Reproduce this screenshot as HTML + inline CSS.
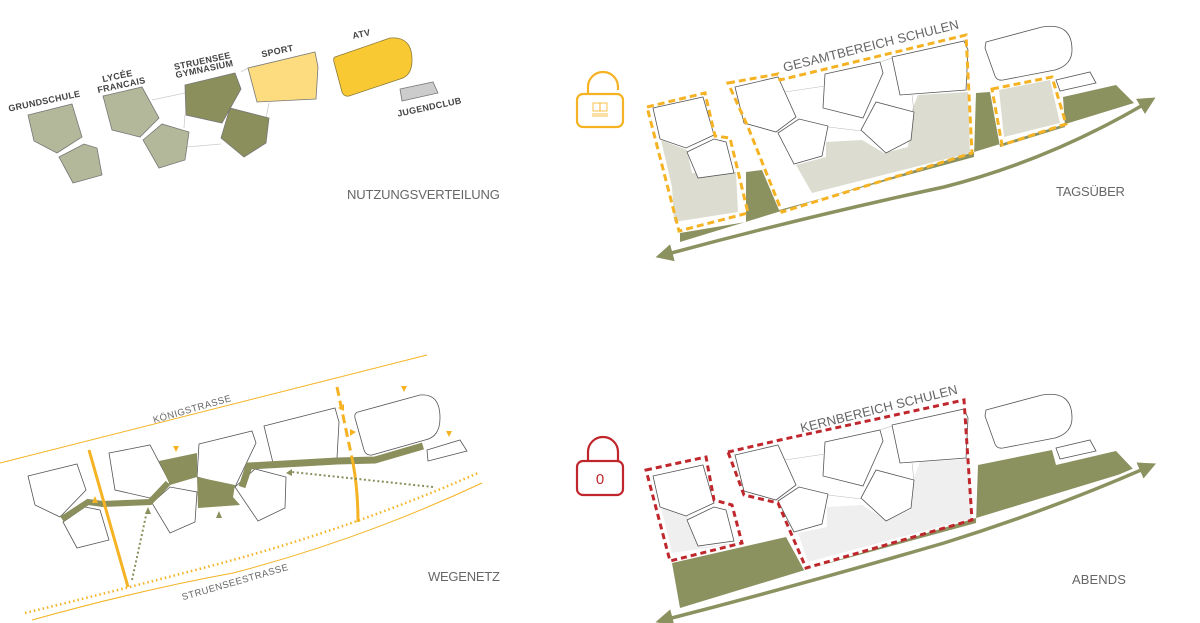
<!DOCTYPE html>
<html><head><meta charset="utf-8"><style>
html,body{margin:0;padding:0;background:#fff;}
svg{display:block;font-family:"Liberation Sans",sans-serif;}
.b{fill:#fff;stroke:#555;stroke-width:0.8;}
.lbl{font-size:9px;font-weight:bold;fill:#444;letter-spacing:0.3px;}
.ttl{font-size:13px;fill:#666;letter-spacing:0.1px;}
.st{font-size:9.5px;fill:#666;letter-spacing:0.5px;}
</style></head><body>
<svg width="1200" height="623" viewBox="0 0 1200 623" xmlns="http://www.w3.org/2000/svg">
<defs>
<marker id="ah" markerWidth="5" markerHeight="5" refX="2.5" refY="2.5" orient="auto-start-reverse" markerUnits="strokeWidth"><path d="M0,0 L5,2.5 L0,5 Z" fill="#8c9160"/></marker>
<g id="bld">
<polygon class="b" points="653,108 703,97 714,135 686,148 660,139"/>
<polygon class="b" points="687,152 714,139 726,142 734,173 698,178"/>
<polygon class="b" points="735,87 778,77 796,117 776,132 744,123"/>
<polygon class="b" points="778,133 799,119 828,126 822,156 794,164"/>
<polygon class="b" points="825,74 880,62 883,73 863,118 823,108"/>
<polygon class="b" points="861,130 876,102 914,112 911,140 886,153"/>
<polygon class="b" points="892,57 964,41 968,50 966,90 900,95"/>
<path class="b" d="M986,42 L1042,27 Q1072,22 1072,50 Q1072,65 1055,70 L1003,80 Q997,81 995,76 L985,48 Z"/>
<polygon class="b" points="1056,80 1090,72 1096,83 1060,91"/>
<g stroke="#bbb" stroke-width="0.6" fill="none"><line x1="785" y1="92" x2="825" y2="86"/><line x1="828" y1="127" x2="862" y2="131"/><line x1="880" y1="62" x2="892" y2="58"/><line x1="914" y1="112" x2="912" y2="95"/></g>
</g>
</defs>

<!-- TOP LEFT -->
<g stroke="#ccc" stroke-width="0.8" fill="none">
<line x1="152" y1="100" x2="185" y2="93"/><line x1="187" y1="147" x2="221" y2="144"/>
<line x1="185" y1="115" x2="184" y2="128"/><line x1="241" y1="72" x2="248" y2="68"/><line x1="269" y1="103" x2="266" y2="118"/>
</g>
<g stroke="#777" stroke-width="0.8">
<polygon fill="#b3b89a" points="28,115 72,104 82,137 57,153 34,141"/>
<polygon fill="#b3b89a" points="59,157 84,144 97,148 102,175 73,183"/>
<polygon fill="#b3b89a" points="103,96 142,87 159,118 140,137 112,130"/>
<polygon fill="#b3b89a" points="143,140 162,124 189,132 185,160 159,168"/>
<polygon fill="#8a8f5c" points="185,85 235,73 241,89 222,123 186,115"/>
<polygon fill="#8a8f5c" points="221,138 230,108 269,118 266,143 244,157"/>
<polygon fill="#fcdc7f" points="248,68 315,52 318,67 316,99 257,102"/>
<path fill="#f9c933" stroke="#8a7a3a" d="M335,57 L390,38 Q412,36 412,60 Q412,76 400,79 L349,96 Q344,97 342,92 L334,62 Q333,58 335,57 Z"/>
<polygon fill="#ccc" points="400,89 433,82 438,93 402,101"/>
</g>
<text class="lbl" transform="translate(45,104) rotate(-12)" text-anchor="middle">GRUNDSCHULE</text>
<text class="lbl" transform="translate(118,79) rotate(-12)" text-anchor="middle">LYCÉE</text>
<text class="lbl" transform="translate(122,88) rotate(-12)" text-anchor="middle">FRANCAIS</text>
<text class="lbl" transform="translate(203,64) rotate(-12)" text-anchor="middle">STRUENSEE</text>
<text class="lbl" transform="translate(205,72) rotate(-12)" text-anchor="middle">GYMNASIUM</text>
<text class="lbl" transform="translate(278,54) rotate(-12)" text-anchor="middle">SPORT</text>
<text class="lbl" transform="translate(362,37) rotate(-12)" text-anchor="middle">ATV</text>
<text class="lbl" transform="translate(430,110) rotate(-12)" text-anchor="middle">JUGENDCLUB</text>
<text class="ttl" x="347" y="199" textLength="153">NUTZUNGSVERTEILUNG</text>

<!-- TOP RIGHT -->
<g fill="none" stroke="#f5b324" stroke-width="2.2">
<path d="M588,94 L588,87 A15,15 0 0 1 618,87 L618,90"/>
<rect x="577" y="94" width="46" height="33" rx="6"/>
</g>
<g fill="none" stroke="#f5b324" stroke-width="0.8"><rect x="593" y="103" width="7" height="8"/><rect x="600" y="103" width="7" height="8"/><line x1="592" y1="114" x2="608" y2="114"/><line x1="592" y1="116" x2="608" y2="116"/></g>
<polygon fill="#8c9160" points="680,233 746,222 746,172 762,170 779,210 974,157 976,93 990,92 1000,147 1065,127 1063,97 1116,85 1134,103 680,242"/>
<polygon fill="#dcddd0" points="661,140 687,150 692,173 736,172 738,212 674,222 672,187"/>
<polygon fill="#dcddd0" points="796,165 826,157 826,142 862,140 884,153 908,147 912,110 918,95 968,92 970,153 812,193"/>
<polygon fill="#dcddd0" points="999,90 1050,80 1060,123 1004,137"/>
<use href="#bld"/>
<g fill="none" stroke="#f5b324" stroke-width="3" stroke-dasharray="7,4">
<polygon points="647,107 705,93 715,136 730,138 748,213 679,231"/>
<polygon points="728,83 778,74 780,80 966,35 972,153 782,212 748,127"/>
<polygon points="992,89 1052,77 1066,124 1002,145"/>
</g>
<path d="M664,255 Q800,218 944,187 Q1050,160 1148,102" fill="none" stroke="#fff" stroke-width="9"/>
<path d="M664,255 Q800,218 944,187 Q1050,160 1148,102" fill="none" stroke="#8c9160" stroke-width="3.5" marker-start="url(#ah)" marker-end="url(#ah)"/>
<text class="ttl" transform="translate(872,50) rotate(-14)" text-anchor="middle">GESAMTBEREICH SCHULEN</text>
<text class="ttl" x="1056" y="196" textLength="69">TAGSÜBER</text>

<!-- BOTTOM LEFT -->
<line x1="0" y1="463" x2="427" y2="355" stroke="#f5b324" stroke-width="1"/>
<path d="M32,620 Q140,590 233,573 Q360,540 482,483" fill="none" stroke="#f5b324" stroke-width="1"/>
<path d="M25,613 Q140,585 233,560 Q360,525 478,473" fill="none" stroke="#f5b324" stroke-width="2.5" stroke-dasharray="1.5,3"/>
<text class="st" transform="translate(193,412) rotate(-16)" text-anchor="middle">KÖNIGSTRASSE</text>
<text class="st" transform="translate(236,585) rotate(-16)" text-anchor="middle">STRUENSEESTRASSE</text>
<g>
<polygon class="b" points="28,476 77,464 86,490 60,517 35,505"/>
<polygon class="b" points="63,522 85,507 100,510 109,540 77,548"/>
<polygon class="b" points="109,453 150,445 170,483 150,498 115,490"/>
<polygon class="b" points="152,503 170,487 197,492 195,522 170,533"/>
<polygon class="b" points="199,444 252,431 256,443 235,487 197,477"/>
<polygon class="b" points="235,487 255,469 286,477 285,508 258,521"/>
<polygon class="b" points="264,426 335,408 339,422 337,458 273,463"/>
<path class="b" d="M358,412 L420,395 Q440,393 440,418 Q440,437 425,440 L372,455 Q366,456 364,450 L355,418 Q354,413 358,412 Z"/>
<polygon class="b" points="427,450 460,440 467,451 428,461"/>
</g>
<g fill="#8a8f5c">
<polyline points="62,519 88,502 103,504 150,502 168,483" fill="none" stroke="#8a8f5c" stroke-width="6"/>
<polygon points="159,461 197,453 197,477 170,485"/>
<polygon points="197,477 235,485 233,497 240,505 198,508"/>
<polyline points="242,487 249,466 337,461 375,460 423,446" fill="none" stroke="#8a8f5c" stroke-width="7"/>
</g>
<line x1="89" y1="450" x2="128" y2="587" stroke="#f5b324" stroke-width="3"/>
<line x1="337" y1="387" x2="353" y2="463" stroke="#f5b324" stroke-width="3" stroke-dasharray="9,5"/>
<path d="M353,463 Q358,490 358,522" fill="none" stroke="#f5b324" stroke-width="3"/>
<g fill="none" stroke="#8a8f5c" stroke-width="2" stroke-dasharray="2,2.5">
<path d="M132,580 L147,511"/><path d="M433,487 L292,472"/>
</g>
<g fill="#f5b324">
<polygon points="92,503 98,503 95,496"/><polygon points="173,446 179,446 176,452"/>
<polygon points="401,386 407,386 404,392"/><polygon points="344,404 344,411 338,408"/>
<polygon points="350,429 350,436 356,432"/><polygon points="446,431 452,431 449,437"/>
</g>
<g fill="#8a8f5c">
<polygon points="145,514 151,514 148,507"/><polygon points="216,518 222,518 219,511"/><polygon points="292,469 292,476 286,473"/>
</g>
<text class="ttl" x="428" y="581" textLength="72">WEGENETZ</text>

<!-- BOTTOM RIGHT -->
<g fill="none" stroke="#c0272d" stroke-width="2.2">
<path d="M588,462 L588,452 A15,15 0 0 1 618,452 L618,462"/>
<rect x="577" y="461" width="46" height="34" rx="6"/>
</g>
<text x="600" y="484" font-size="15" fill="#c0272d" text-anchor="middle">0</text>
<polygon fill="#8c9160" points="672,563 786,537 804,570 976,523 978,465 1052,450 1056,465 1116,451 1134,470 680,608"/>
<polygon fill="#efefef" points="661,507 688,516 702,547 736,543 742,543 672,553"/>
<polygon fill="#efefef" points="798,533 827,527 827,507 862,505 886,520 911,510 913,480 920,462 969,459 972,518 808,562"/>
<use href="#bld" transform="translate(0,368)"/>
<g fill="none" stroke="#c0272d" stroke-width="3" stroke-dasharray="6,4">
<polygon points="646,470 706,457 714,500 732,505 742,543 670,561"/>
<polygon points="728,452 780,440 964,400 972,520 806,568 778,503 744,495"/>
</g>
<path d="M664,620 Q800,585 944,543 Q1050,510 1148,467" fill="none" stroke="#fff" stroke-width="9"/>
<path d="M664,620 Q800,585 944,543 Q1050,510 1148,467" fill="none" stroke="#8c9160" stroke-width="3.5" marker-start="url(#ah)" marker-end="url(#ah)"/>
<text class="ttl" transform="translate(880,413) rotate(-14)" text-anchor="middle">KERNBEREICH SCHULEN</text>
<text class="ttl" x="1072" y="584" textLength="54">ABENDS</text>
</svg>
</body></html>
